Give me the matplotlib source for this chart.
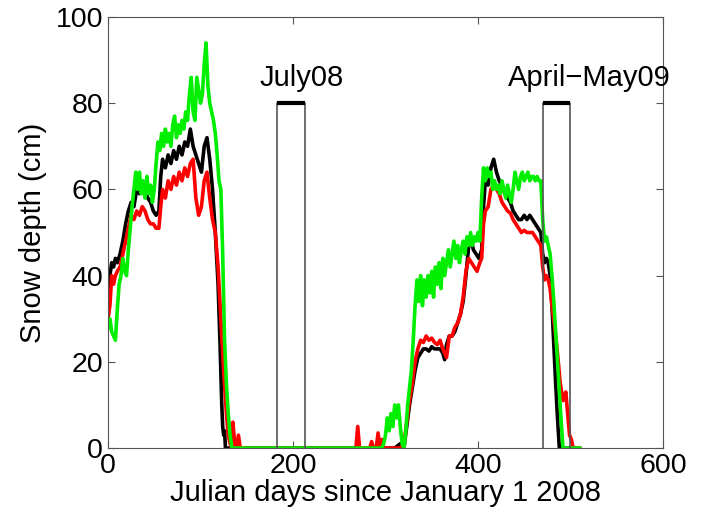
import matplotlib
matplotlib.use("Agg")
import matplotlib.pyplot as plt

plt.rcParams['font.family'] = ['Liberation Sans', 'DejaVu Sans']

# black series (days, snow depth cm)
black_days = [0, 2, 4, 6, 8, 10, 13, 16, 19, 22, 25, 28, 31, 34, 37, 40, 43, 46, 49, 52, 55,
              57, 59, 62, 65, 68, 71, 74, 77, 80, 83, 86, 89, 92, 95, 98, 101, 104, 107, 110,
              113, 116, 119, 121, 123, 124, 125, 126, 127, 150, 200, 250, 300, 310, 316, 320,
              323, 326, 329, 332, 335, 338, 341, 344, 347, 350, 353, 356, 359, 362, 364, 366,
              369, 372, 375, 378, 381, 384, 387, 390, 392, 395, 398, 401, 404, 406, 408, 411,
              414, 417, 420, 423, 426, 429, 432, 435, 438, 441, 444, 447, 450, 453, 456, 459,
              462, 465, 468, 470, 472, 474, 476, 478, 480, 482, 484, 486, 488, 500]
black_snow = [30, 40, 43, 42, 44, 43, 45, 48, 52, 55, 57, 56, 60, 59, 61, 60, 58, 57, 55, 54, 55,
              63, 67, 65, 68, 66, 69, 67, 70, 68, 71, 70, 74, 70, 68, 66, 64, 70, 72, 67,
              60, 50, 38, 25, 10, 5, 3, 4, 0, 0, 0, 0, 0, 0, 1, 0,
              5, 10, 14, 18, 21, 22, 23, 23, 22.5, 23.5, 23, 23, 23, 22, 20.5, 24,
              26, 26, 27, 29, 31, 34, 40, 47, 49, 46, 45, 44, 46, 56, 62, 61,
              65, 67, 64, 62, 61, 59, 58, 57, 55, 54, 53, 53, 54, 53, 54, 53,
              52, 51, 50, 45, 43, 44, 43, 40, 33, 24, 15, 7, 0, 0]

# red series
red_days = [0, 2, 4, 6, 8, 10, 13, 16, 19, 22, 25, 28, 31, 34, 37, 40, 43, 46, 49, 52, 55,
            57, 59, 62, 65, 68, 71, 74, 77, 80, 83, 86, 89, 92, 95, 98, 101, 104, 107, 110,
            113, 116, 119, 122, 125, 128, 130, 132, 134, 135, 137, 139, 141, 143, 150, 200, 260,
            268, 270, 272, 283, 285, 287, 290, 292, 294, 296, 298, 310, 316, 320, 323, 326, 329,
            332, 335, 338, 341, 344, 347, 350, 353, 356, 359, 362, 364, 366, 369, 372, 375, 378,
            381, 384, 387, 390, 393, 396, 399, 402, 404, 406, 408, 411, 414, 417, 420, 423, 426,
            429, 432, 435, 438, 441, 444, 447, 450, 453, 456, 459, 462, 465, 468, 470, 472, 474,
            476, 478, 480, 483, 486, 489, 492, 495, 497, 499, 501, 503, 510]
red_snow = [30, 33, 40, 38, 40, 41, 42, 45, 48, 51, 54, 53, 55, 54, 56, 55, 53, 52, 52, 51, 51,
            56, 60, 58, 62, 60, 63, 61, 64, 62, 65, 63, 66, 67, 58, 54, 56, 62, 64, 58,
            53, 50, 42, 30, 18, 8, 3, 1, 0, 6, 1, 0, 3, 0, 0, 0, 0,
            0, 5, 0, 0, 1.5, 0, 0, 3.5, 0, 2, 0, 0, 0, 1, 6, 11, 15,
            20, 23, 25, 24.5, 26, 25, 25.5, 24.5, 24, 25, 23, 22, 21, 26, 26, 28, 29,
            31, 35, 41, 44, 43, 42, 41, 43, 44, 52, 55, 56, 60, 61, 60, 59, 57,
            56, 55, 54.5, 53, 52, 51, 50, 50.5, 50, 50, 50, 49, 48, 47, 42, 39, 40,
            39, 37, 33, 28, 22, 15, 11, 13, 8, 3, 2, 0, 0]

# green series
green_days = [0, 2, 4, 6, 8, 10, 12, 14, 16, 18, 20, 22, 24, 26, 28, 30, 32, 34, 36, 38, 40,
              42, 44, 46, 48, 50, 52, 54, 56, 58, 60, 62, 64, 66, 68, 70, 72, 74, 76, 78, 80,
              82, 84, 86, 88, 90, 92, 94, 96, 98, 100, 102, 104, 106, 108, 110, 112, 114, 116,
              118, 120, 122, 124, 126, 128, 130, 132, 134, 200, 296, 298, 300, 302, 304, 306,
              308, 310, 312, 314, 316, 318, 320, 322, 324, 326, 328, 330, 332, 334, 336, 338,
              340, 342, 344, 346, 348, 350, 352, 354, 356, 358, 360, 362, 364, 366, 368, 370,
              372, 374, 376, 378, 380, 382, 384, 386, 388, 390, 392, 394, 396, 398, 400, 402,
              404, 406, 408, 410, 412, 414, 416, 418, 420, 422, 424, 426, 428, 430, 432, 434,
              436, 438, 440, 442, 444, 446, 448, 450, 452, 454, 456, 458, 460, 462, 464, 466,
              468, 470, 472, 474, 476, 478, 480, 482, 484, 486, 488, 490, 492, 510]
green_snow = [28, 30, 27, 26, 25, 32, 38, 40, 44, 41, 40, 46, 51, 56, 60, 64, 60, 64, 59, 62, 58,
              63, 59, 61, 57, 60, 66, 71, 69, 73, 70, 74, 71, 73, 70, 75, 77, 72, 75, 73, 76,
              74, 78, 76, 82, 86, 78, 76, 86, 83, 80, 82, 89, 94, 84, 80, 78, 76, 73,
              68, 62, 60, 45, 25, 15, 8, 3, 0, 0, 0, 1, 3, 7, 4, 8,
              5, 10, 7, 10, 5, 1, 0, 4, 10, 14, 18, 25, 33, 39, 34, 40,
              33, 39, 35, 40, 36, 41, 35, 42, 38, 43, 37, 44, 40, 43, 46, 42,
              45, 48, 44, 47, 43, 46, 48, 45, 49, 47, 50, 47, 49, 48, 50, 48,
              58, 65, 62, 65, 63, 64, 60, 62, 60, 61, 59, 62, 60, 58, 61, 59,
              57, 60, 64, 62, 60, 63, 64, 62, 63, 64, 62, 63, 63, 62, 63, 62,
              62, 53, 48, 49, 47, 45, 40, 34, 27, 20, 13, 6, 0, 0]

# field campaign periods
periods = [(183, 213), (470, 500)]
period_labels = ['July08', 'April\u2212May09']
period_height = 80

fig = plt.figure(figsize=(7.06, 5.15), dpi=100)
ax = fig.add_axes([0.153, 0.130, 0.786, 0.837])

ax.plot(black_days, black_snow, color='black', lw=2.6, zorder=2)
ax.plot(red_days, red_snow, color='red', lw=2.6, zorder=2)
ax.plot(green_days, green_snow, color='#00ee00', lw=2.6, zorder=2)

label_x = [209, 520]
for (x0, x1), lab, lx in zip(periods, period_labels, label_x):
    ax.plot([x0, x0, x1, x1], [0, period_height, period_height, 0], color='#555555', lw=1.2, zorder=3)
    ax.plot([x0, x1], [period_height, period_height], color='black', lw=3, zorder=4, solid_capstyle='butt')
    ax.text(lx, period_height + 2.5, lab, ha='center', va='bottom', fontsize=21, clip_on=False)

ax.set_xlim(0, 600)
ax.set_ylim(0, 100)
ax.set_xticks([0, 200, 400, 600])
ax.set_yticks([0, 20, 40, 60, 80, 100])
ax.tick_params(direction='in', length=5, top=True, right=True, labelsize=20.5, color='#555555')
for s in ax.spines.values():
    s.set_color('#555555')
ax.set_xlabel('Julian days since January 1 2008', fontsize=21, labelpad=0)
ax.set_ylabel('Snow depth (cm)', fontsize=21, labelpad=6)

fig.savefig('out.png', dpi=100)
